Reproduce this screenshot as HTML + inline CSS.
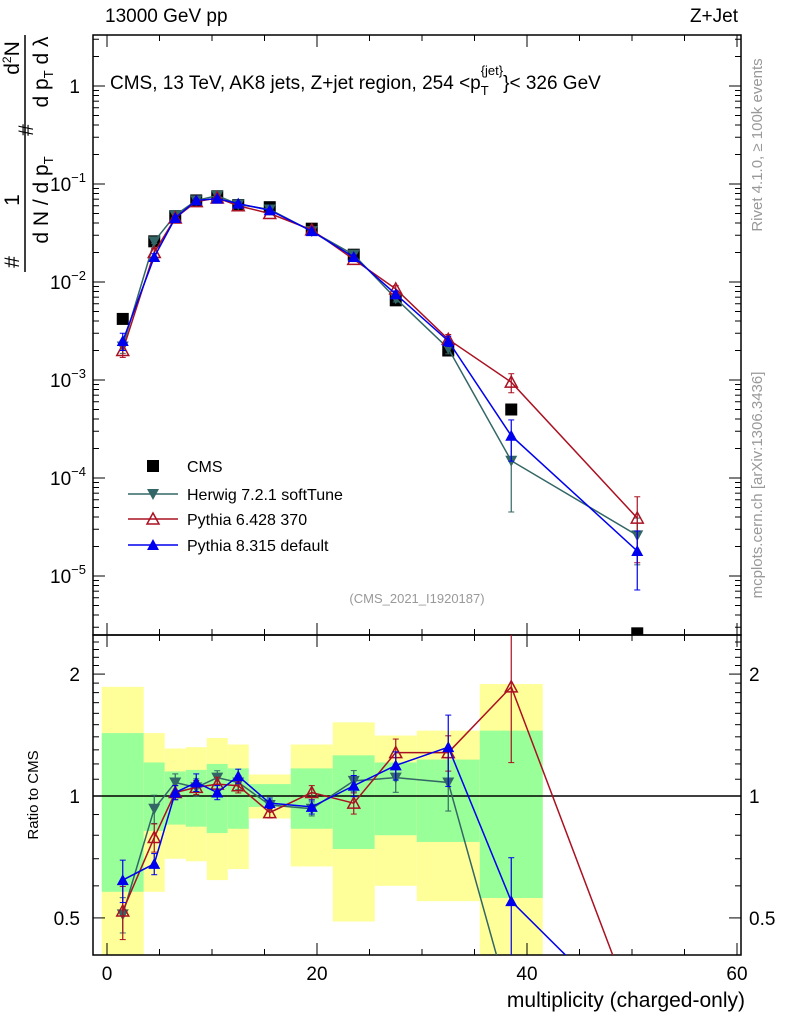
<!DOCTYPE html>
<html><head><meta charset="utf-8"><style>
html,body{margin:0;background:#fff;width:786px;height:1024px;overflow:hidden}
svg{display:block;font-family:"Liberation Sans",sans-serif}
</style></head><body>
<svg id="chart" width="786" height="1024" viewBox="0 0 786 1024">
<g id="bands"></g>
<g id="grid"></g>
<g id="series"></g>
<g font-size="19">
<text x="105" y="22">13000 GeV pp</text>
<text x="738" y="22" text-anchor="end">Z+Jet</text>
<text x="110" y="89">CMS, 13 TeV, AK8 jets, Z+jet region, 254 &lt;p<tspan font-size="13" dy="6">T</tspan><tspan font-size="13" dx="-8" dy="-20">{jet}</tspan><tspan dy="14">}&lt; 326 GeV</tspan></text>
<text x="417" y="603" text-anchor="middle" font-size="13" fill="#999">(CMS_2021_I1920187)</text>
<text x="745" y="1007" text-anchor="end" font-size="21">multiplicity (charged-only)</text>
<text transform="translate(38,795) rotate(-90)" text-anchor="middle" font-size="15">Ratio to CMS</text>
<text transform="translate(762,145) rotate(-90)" text-anchor="middle" font-size="15" fill="#999">Rivet 4.1.0, ≥ 100k events</text>
<text transform="translate(762,485) rotate(-90)" text-anchor="middle" font-size="15" fill="#999">mcplots.cern.ch [arXiv:1306.3436]</text>
<g font-size="21">
<line x1="25" y1="272" x2="25" y2="35" stroke="#000" stroke-width="1.5"/>
<text transform="translate(19,262) rotate(-90)" text-anchor="middle">#</text>
<text transform="translate(19,200) rotate(-90)" text-anchor="middle">1</text>
<text transform="translate(48,200) rotate(-90)" text-anchor="middle">d N / d p<tspan font-size="13" dy="5">T</tspan></text>
<text transform="translate(33,130) rotate(-90)" text-anchor="middle">#</text>
<text transform="translate(19,58) rotate(-90)" text-anchor="middle">d<tspan font-size="12" dy="-8">2</tspan><tspan dy="8">N</tspan></text>
<text transform="translate(48,72) rotate(-90)" text-anchor="middle">d p<tspan font-size="13" dy="5">T</tspan><tspan dy="-5"> d λ</tspan></text>
</g>
</g>
<g id="legend" font-size="16"></g>
</svg>
<script>
const binCenters=[1.5,4.5,6.5,8.5,10.5,12.5,15.5,19.5,23.5,27.5,32.5,38.5,50.5];
const binEdges=[-0.5,3.5,5.5,7.5,9.5,11.5,13.5,17.5,21.5,25.5,29.5,35.5,41.5];
const cmsValues=[4.2e-3,0.026,0.047,0.068,0.075,0.061,0.058,0.035,0.019,0.0065,0.002,5.0e-4,2.6e-6];
const herwigValues=[2.2e-3,0.026,0.048,0.068,0.076,0.062,0.055,0.033,0.019,0.0068,0.0021,1.5e-4,2.6e-5];
const pythia6Values=[2.0e-3,0.020,0.045,0.066,0.072,0.060,0.050,0.034,0.017,0.0085,0.0026,9.5e-4,3.9e-5];
const pythia8Values=[2.5e-3,0.018,0.045,0.068,0.071,0.063,0.054,0.033,0.018,0.0075,0.0025,2.7e-4,1.8e-5];
const herwigErr=[0.15,0.05,0.04,0.04,0.04,0.04,0.03,0.03,0.05,0.08,0.12,0.7,0.5];
const pythia6Err=[0.15,0.1,0.04,0.04,0.04,0.04,0.03,0.03,0.05,0.08,0.12,0.22,0.65];
const pythia8Err=[0.2,0.08,0.04,0.04,0.04,0.04,0.03,0.03,0.05,0.08,0.12,0.45,0.6];
const greenHi=[1.43,1.21,1.15,1.16,1.20,1.17,1.07,1.17,1.26,1.21,1.23,1.45];
const greenLo=[0.58,0.82,0.85,0.84,0.81,0.83,0.94,0.83,0.74,0.80,0.77,0.56];
const yellowHi=[1.86,1.43,1.31,1.32,1.39,1.34,1.13,1.34,1.52,1.41,1.45,1.89];
const yellowLo=[0.38,0.58,0.70,0.69,0.62,0.66,0.88,0.67,0.49,0.60,0.55,0.38];
const herwigRatio=[0.51,0.93,1.08,1.05,1.11,1.08,0.95,0.93,1.09,1.11,1.08,0.30,0.10];
const pythia6Ratio=[0.52,0.79,1.02,1.05,1.07,1.06,0.91,1.02,0.96,1.28,1.28,1.86,0.28];
const pythia8Ratio=[0.62,0.68,1.02,1.08,1.02,1.12,0.96,0.94,1.06,1.19,1.32,0.55,0.27];
const herwigRErr=[0.1,0.08,0.05,0.05,0.04,0.04,0.03,0.04,0.06,0.08,0.15,0.2,0.1];
const pythia6RErr=[0.15,0.08,0.04,0.04,0.04,0.04,0.03,0.04,0.06,0.08,0.1,0.35,0.1];
const pythia8RErr=[0.12,0.06,0.04,0.05,0.04,0.04,0.03,0.04,0.06,0.08,0.2,0.28,0.1];
const xTicks=[0,20,40,60];
const mainTicks=[-5,-4,-3,-2,-1,0];
const ratioTicks=[0.5,1,2];

const L=93,R=741,T1=35,B1=635,T2=635,B2=955;
const X=v=>107+(v)*10.5;
const Y1=v=>86-98*Math.log10(v);
const Y2=v=>796-405*Math.log10(v);
const NS="http://www.w3.org/2000/svg";
function mk(parent,tag,attrs){const e=document.createElementNS(NS,tag);for(const k in attrs)e.setAttribute(k,attrs[k]);parent.appendChild(e);return e;}
const grid=document.getElementById('grid'),bands=document.getElementById('bands'),ser=document.getElementById('series'),leg=document.getElementById('legend');
const clip=mk(document.getElementById('chart'),'defs',{});
const c1=mk(clip,'clipPath',{id:'c1'});mk(c1,'rect',{x:L,y:T1,width:R-L,height:B1-T1});
const c2=mk(clip,'clipPath',{id:'c2'});mk(c2,'rect',{x:L,y:T2,width:R-L,height:B2-T2});

for(let i=0;i<binEdges.length;i++){
 const x0=X(binEdges[i]),x1=i+1<binEdges.length?X(binEdges[i+1]):X(41.5);
 const yb=mk(bands,'rect',{x:x0,y:Y2(yellowHi[i]),width:x1-x0,height:Math.min(B2,Y2(yellowLo[i]))-Y2(yellowHi[i]),fill:'#ffff99'});
 
 
 const gb=mk(bands,'rect',{x:x0,y:Y2(greenHi[i]),width:x1-x0,height:Y2(greenLo[i])-Y2(greenHi[i]),fill:'#99ff99'});
 
 
}
const f1=mk(grid,'rect',{x:L,y:T1,width:R-L,height:B1-T1,fill:'none',stroke:'#000','stroke-width':1.5});


const f2=mk(grid,'rect',{x:L,y:T2,width:R-L,height:B2-T2,fill:'none',stroke:'#000','stroke-width':1.5});


mk(grid,'line',{x1:L,x2:R,y1:Y2(1),y2:Y2(1),stroke:'#000','stroke-width':1.5});
for(let v=0;v<=60;v+=5){const maj=v%20===0,len=maj?12:6;
 [[T1,1],[B1,-1],[T2,1],[B2,-1]].forEach(([y,d])=>mk(grid,'line',{x1:X(v),x2:X(v),y1:y,y2:y+d*len,stroke:'#000'}));}
xTicks.forEach(v=>{const t=mk(grid,'text',{x:X(v),y:980,'text-anchor':'middle','font-size':19});t.textContent=v;
 
 });
for(let d=-6;d<=0;d++){for(let m=1;m<10;m++){const v=m*Math.pow(10,d),y=Y1(v);if(y<T1||y>B1)continue;const len=m===1?12:6;
 mk(grid,'line',{x1:L,x2:L+len,y1:y,y2:y,stroke:'#000'});mk(grid,'line',{x1:R,x2:R-len,y1:y,y2:y,stroke:'#000'});}}
mainTicks.forEach(d=>{const y=Y1(Math.pow(10,d));const t=mk(grid,'text',{x:d===0?80:86,y:y+7,'text-anchor':'end','font-size':19});
 if(d===0)t.textContent='1';else{t.textContent='10';const s=mk(t,'tspan',{dy:-9,'font-size':13});s.textContent=(d===-1?'−1':'−'+(-d));}
 
 });
for(let v=0.4;v<=2.5;v=Math.round((v+0.1)*10)/10){const y=Y2(v);if(y<T2||y>B2)continue;const len=(v===0.5||v===1||v===2)?12:6;
 mk(grid,'line',{x1:L,x2:L+len,y1:y,y2:y,stroke:'#000'});mk(grid,'line',{x1:R,x2:R-len,y1:y,y2:y,stroke:'#000'});}
ratioTicks.forEach(v=>{const y=Y2(v);
 const t=mk(grid,'text',{x:80,y:y+7,'text-anchor':'end','font-size':19});t.textContent=v;
 
 
 const t2=mk(grid,'text',{x:749,y:y+7,'font-size':19});t2.textContent=v;
 
 });

function marker(g,type,x,y,color){
 if(type==='sq')return mk(g,'rect',{x:x-6,y:y-6,width:12,height:12,fill:'#000'});
 if(type==='down')return mk(g,'polygon',{points:`${x-6},${y-5} ${x+6},${y-5} ${x},${y+6}`,fill:color});
 if(type==='up')return mk(g,'polygon',{points:`${x-6},${y+5} ${x+6},${y+5} ${x},${y-6}`,fill:color});
 return mk(g,'polygon',{points:`${x-6},${y+5} ${x+6},${y+5} ${x},${y-6}`,fill:'none',stroke:color,'stroke-width':1.5});
}
function drawSeries(name,vals,errs,yf,clipId,type,color){
 const g=mk(ser,'g',{'clip-path':`url(#${clipId})`});
 
 
 if(type!=='sq'){
  const pts=vals.map((v,i)=>X(binCenters[i])+','+yf(v)).join(' ');
  mk(g,'polyline',{points:pts,fill:'none',stroke:color,'stroke-width':1.5});
  vals.forEach((v,i)=>{const x=X(binCenters[i]);const hi=yf(v*(1+errs[i])),lo=yf(Math.max(v*(1-errs[i]),1e-9));
   mk(g,'line',{x1:x,x2:x,y1:hi,y2:lo,stroke:color,'stroke-width':1.2});
   mk(g,'line',{x1:x-3,x2:x+3,y1:hi,y2:hi,stroke:color});mk(g,'line',{x1:x-3,x2:x+3,y1:lo,y2:lo,stroke:color});});
 }
 vals.forEach((v,i)=>{const m=marker(g,type,X(binCenters[i]),yf(v),color);
  
  });
}
drawSeries('cms-data',cmsValues,[],Y1,'c1','sq','#000');
drawSeries('herwig-main',herwigValues,herwigErr,Y1,'c1','down','#336666');
drawSeries('pythia6-main',pythia6Values,pythia6Err,Y1,'c1','open','#aa1122');
drawSeries('pythia8-main',pythia8Values,pythia8Err,Y1,'c1','up','#0000ee');
drawSeries('herwig-ratio',herwigRatio,herwigRErr,Y2,'c2','down','#336666');
drawSeries('pythia6-ratio',pythia6Ratio,pythia6RErr,Y2,'c2','open','#aa1122');
drawSeries('pythia8-ratio',pythia8Ratio,pythia8RErr,Y2,'c2','up','#0000ee');

const entries=[['CMS','sq','#000',466],['Herwig 7.2.1 softTune','down','#336666',494],['Pythia 6.428 370','open','#aa1122',519],['Pythia 8.315 default','up','#0000ee',545]];
entries.forEach(([lab,type,col,y])=>{const g=mk(leg,'g',{});
 
 
 if(type!=='sq')mk(g,'line',{x1:128,x2:178,y1:y,y2:y,stroke:col,'stroke-width':1.5});
 marker(g,type,153,y,col);
 const t=mk(g,'text',{x:187,y:y+6});t.textContent=lab;});
</script>
</body></html>
